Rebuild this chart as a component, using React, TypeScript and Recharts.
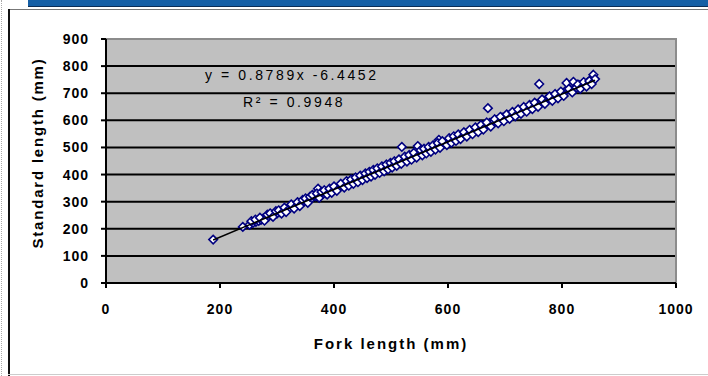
import {
  ScatterChart,
  Scatter,
  XAxis,
  YAxis,
  CartesianGrid,
  ReferenceArea,
  Customized,
} from 'recharts';

// fork length (mm) vs standard length (mm)
const forkLength = [
  188, 240, 252, 258, 263, 268, 272, 276, 280, 285,
  290, 295, 300, 305, 310, 318, 322, 328, 333, 338,
  342, 347, 352, 356, 360, 365, 372, 368, 376, 380,
  385, 390, 394, 398, 402, 406, 410, 415, 420, 424,
  428, 432, 436, 440, 444, 448, 452, 456, 460, 463,
  467, 470, 474, 478, 482, 486, 490, 493, 497, 500,
  504, 508, 512, 516, 519, 522, 526, 530, 534, 538,
  542, 547, 550, 553, 557, 560, 564, 568, 572, 576,
  580, 584, 588, 592, 596, 600, 604, 608, 612, 616,
  620, 625, 630, 635, 640, 645, 650, 655, 660, 665,
  670, 673, 676, 680, 685, 690, 695, 700, 705, 710,
  715, 720, 725, 730, 735, 740, 745, 750, 755, 760,
  763, 768, 772, 776, 780, 785, 790, 795, 800, 805,
  808, 815, 820, 825, 830, 835, 840, 845, 850, 855, 858,
];

const standardLength = [
  160, 207, 215, 222, 226, 229, 233, 238, 240, 245,
  250, 253, 256, 262, 265, 272, 276, 282, 285, 290,
  296, 300, 303, 308, 311, 322, 348, 320, 325, 327,
  332, 338, 341, 344, 350, 352, 356, 360, 364, 370,
  372, 378, 381, 380, 388, 390, 392, 396, 400, 402,
  404, 409, 412, 414, 418, 424, 426, 428, 432, 434,
  438, 442, 444, 448, 502, 455, 458, 460, 466, 468,
  470, 505, 478, 480, 484, 486, 490, 494, 498, 500,
  505, 528, 512, 515, 518, 520, 524, 530, 534, 538,
  540, 546, 550, 555, 560, 565, 568, 572, 578, 580,
  645, 590, 592, 595, 600, 606, 610, 612, 618, 622,
  626, 630, 634, 638, 644, 648, 652, 656, 660, 734,
  668, 672, 676, 680, 683, 688, 692, 697, 700, 706,
  738, 712, 742, 720, 730, 732, 735, 740, 748, 768, 752,
];

// second batch of fish, the scatter either side of the trend
const forkLengthB = [
  255, 262, 270, 278, 283, 288, 293, 298, 303, 308,
  313, 316, 325, 330, 336, 340, 345, 350, 354, 358,
  362, 370, 374, 378, 383, 388, 392, 396, 400, 405,
  412, 418, 422, 426, 430, 434, 438, 442, 446, 450,
  455, 458, 462, 465, 469, 472, 476, 480, 484, 488,
  492, 495, 499, 502, 506, 510, 514, 518, 524, 528,
  532, 536, 540, 545, 552, 555, 558, 562, 566, 570,
  574, 578, 582, 586, 590, 598, 602, 606, 610, 614,
  618, 622, 628, 633, 638, 643, 648, 653, 658, 662,
  668, 675, 682, 688, 692, 698, 703, 708, 713, 718,
  723, 728, 733, 738, 743, 748, 752, 758, 765, 770,
  778, 783, 788, 793, 798, 803, 812, 818, 828, 832,
  838, 843, 848, 852,
];

const standardLengthB = [
  228, 234, 241, 230, 252, 257, 244, 265, 268, 256,
  278, 262, 290, 275, 298, 284, 306, 312, 296, 318,
  325, 330, 314, 336, 342, 326, 348, 333, 356, 340,
  366, 352, 376, 359, 382, 366, 389, 372, 396, 380,
  404, 387, 410, 393, 417, 399, 423, 406, 430, 412,
  437, 419, 443, 426, 449, 432, 456, 440, 466, 448,
  472, 455, 480, 463, 490, 471, 495, 478, 502, 484,
  508, 492, 516, 499, 523, 509, 534, 517, 541, 524,
  548, 531, 556, 540, 565, 549, 574, 557, 583, 566,
  592, 577, 604, 589, 613, 597, 622, 606, 631, 615,
  640, 624, 649, 632, 657, 642, 665, 650, 677, 661,
  688, 672, 697, 681, 706, 690, 716, 703, 732, 716,
  741, 725, 745, 734,
];

const xTicks = [0, 200, 400, 600, 800, 1000];
const yTicks = [0, 100, 200, 300, 400, 500, 600, 700, 800, 900];

// linear trendline shown on the chart
const slope = 0.8789;
const intercept = -6.4452;
const trendFrom = 188;
const trendTo = 858;

const points = [
  ...forkLength.map((f, i) => ({ fork: f, sl: standardLength[i] })),
  ...forkLengthB.map((f, i) => ({ fork: f, sl: standardLengthB[i] })),
];

const trend = [
  { fork: trendFrom, sl: slope * trendFrom + intercept },
  { fork: trendTo, sl: slope * trendTo + intercept },
];

const FONT = '"Liberation Sans", Arial, sans-serif';

const tickStyle = {
  fill: '#000',
  fontSize: 14,
  fontWeight: 700,
  fontFamily: FONT,
  letterSpacing: 1,
};

const Diamond = (props: any) => {
  const { cx, cy } = props;
  const r = 4.3;
  return (
    <path
      d={`M${cx},${cy - r}L${cx + r},${cy}L${cx},${cy + r}L${cx - r},${cy}Z`}
      fill="#fff"
      stroke="#000080"
      strokeWidth={1.6}
    />
  );
};

const NoMarker = () => null;

const Labels = () => (
  <g fontFamily={FONT} fill="#000">
    <text x={205} y={80} fontSize={14} letterSpacing={2.6}>
      y = 0.8789x -6.4452
    </text>
    <text x={243} y={107} fontSize={14} letterSpacing={2.6}>
      R² = 0.9948
    </text>
    <text
      x={391}
      y={349}
      fontSize={15}
      fontWeight={700}
      letterSpacing={2}
      textAnchor="middle"
    >
      Fork length (mm)
    </text>
    <text
      x={0}
      y={0}
      fontSize={15}
      fontWeight={700}
      letterSpacing={1.8}
      textAnchor="middle"
      transform="translate(43,153) rotate(-90)"
    >
      Standard length (mm)
    </text>
  </g>
);

export default function App() {
  return (
    <div style={{ position: 'relative', width: 708, height: 376, background: '#fff' }}>
      <style>{'body{margin:0}'}</style>

      {/* page furniture around the chart */}
      <div style={{ position: 'absolute', left: 1, top: 0, width: 0, height: 376, borderLeft: '1px dotted #aaa' }} />
      <div style={{ position: 'absolute', left: 28, top: 0, width: 680, height: 6, background: '#155fa5', borderBottom: '1.5px solid #0b2d55' }} />
      <div style={{ position: 'absolute', left: 8, top: 9, width: 700, height: 0, borderTop: '1.5px solid #777' }} />
      <div style={{ position: 'absolute', left: 8, top: 9, width: 0, height: 367, borderLeft: '2.5px solid #111' }} />
      <div style={{ position: 'absolute', left: 8, top: 374, width: 700, height: 0, borderTop: '1.5px solid #ccc' }} />

      <div style={{ position: 'absolute', left: 0, top: 0 }}>
        <ScatterChart
          width={708}
          height={376}
          margin={{ top: 39, right: 32, bottom: 0, left: 0 }}
        >
          <CartesianGrid
            vertical={false}
            stroke="#000"
            strokeWidth={2}
            fill="#c0c0c0"
            fillOpacity={1}
          />
          <ReferenceArea
            x1={0}
            x2={1000}
            y1={0}
            y2={900}
            fill="none"
            stroke="#8c8c8c"
            strokeWidth={2}
          />
          <XAxis
            type="number"
            dataKey="fork"
            domain={[0, 1000]}
            ticks={xTicks}
            interval={0}
            height={93}
            tickSize={5}
            tickMargin={16}
            axisLine={{ stroke: '#000', strokeWidth: 2 }}
            tickLine={{ stroke: '#000', strokeWidth: 2 }}
            tick={tickStyle}
          />
          <YAxis
            type="number"
            dataKey="sl"
            domain={[0, 900]}
            ticks={yTicks}
            interval={0}
            width={106}
            tickSize={5}
            tickMargin={12}
            axisLine={{ stroke: '#000', strokeWidth: 2 }}
            tickLine={{ stroke: '#000', strokeWidth: 2 }}
            tick={tickStyle}
          />
          <Scatter
            data={points}
            shape={<Diamond />}
            isAnimationActive={false}
          />
          <Customized component={<Labels />} />
        </ScatterChart>
      </div>

      {/* trendline on its own layer so it sits above the markers */}
      <div style={{ position: 'absolute', left: 0, top: 0, pointerEvents: 'none' }}>
        <ScatterChart
          width={708}
          height={376}
          margin={{ top: 39, right: 32, bottom: 93, left: 106 }}
        >
          <XAxis type="number" dataKey="fork" domain={[0, 1000]} hide />
          <YAxis type="number" dataKey="sl" domain={[0, 900]} hide />
          <Scatter
            data={trend}
            line={{ stroke: '#000', strokeWidth: 1.5 }}
            shape={<NoMarker />}
            isAnimationActive={false}
          />
        </ScatterChart>
      </div>
    </div>
  );
}
